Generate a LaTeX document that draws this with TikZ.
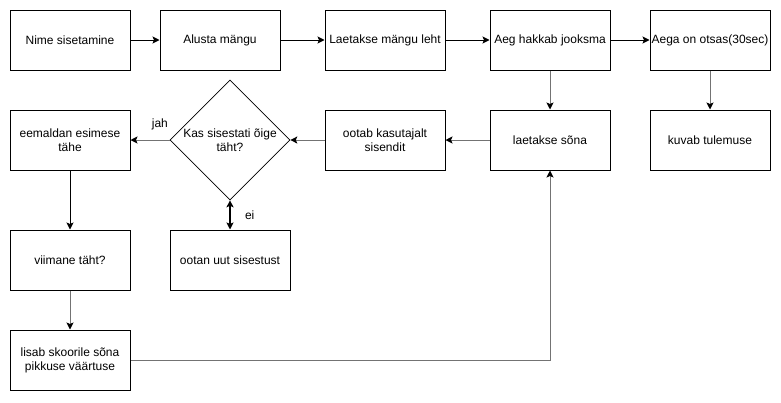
\documentclass[tikz,border=0pt]{standalone}
\usepackage{fontspec}
\setmainfont{Liberation Sans}
\usetikzlibrary{shapes.geometric,arrows.meta}

\tikzset{
  stepbox/.style={draw, line width=1pt, minimum width=120pt, minimum height=60pt,
    inner sep=0pt, align=center},
  decision/.style={draw, diamond, line width=0.6pt, minimum width=120pt,
    minimum height=120pt, inner sep=0pt},
  go/.style={line width=1pt, -{Stealth[length=7pt,width=7pt,inset=1.5pt,color=black]}},
  gogray/.style={go, draw=black!55},
}

\begin{document}
\begin{tikzpicture}[x=1pt,y=-1pt]
  \fontsize{12pt}{14pt}\selectfont
  \useasboundingbox (0,0) rectangle (781,402);

  % first row
  \node[stepbox] (nime)   at (70,40)  {Nime sisetamine};
  \node[stepbox] (alusta) at (220,40) {Alusta mängu};
  \node[stepbox] (leht)   at (385,40) {Laetakse mängu leht};
  \node[stepbox] (aeg)    at (550,40) {Aeg hakkab jooksma};
  \node[stepbox] (otsas)  at (710,40) {Aega on otsas(30sec)};

  % second row
  \node[stepbox] (eemaldan) at (70,140)  {eemaldan esimese\\tähe};
  \node[decision] (kas)     at (230,140) {};
  \node[align=center] (kastext) at (kas) {Kas sisestati õige\\täht?};
  \node[stepbox] (ootab)    at (385,140) {ootab kasutajalt\\sisendit};
  \node[stepbox] (sona)     at (550,140) {laetakse sõna};
  \node[stepbox] (kuvab)    at (710,140) {kuvab tulemuse};

  % lower rows
  \node[stepbox] (viimane) at (70,260)  {viimane täht?};
  \node[stepbox] (ootan)   at (230,260) {ootan uut sisestust};
  \node[stepbox] (lisab)   at (70,360)  {lisab skoorile sõna\\pikkuse väärtuse};

  \draw[go] (nime) -- (alusta);
  \draw[go] (alusta) -- (leht);
  \draw[go] (leht) -- (aeg);
  \draw[go] (aeg) -- (otsas);

  \draw[gogray] (aeg) -- (sona);
  \draw[gogray] (otsas) -- (kuvab);
  \draw[gogray] (sona) -- (ootab);
  \draw[gogray] (ootab) -- (kas.east);
  \draw[gogray] (kas.west) -- (eemaldan)
    node[pos=0.25, above=6pt, black] (jah) {jah};
  \draw[go] (eemaldan) -- (viimane);
  \draw[gogray] (viimane) -- (lisab);
  \draw[gogray] (lisab.east) -| (sona.south);

  \draw[line width=2pt, {Stealth[length=7pt,width=7pt,inset=1.5pt]}-{Stealth[length=7pt,width=7pt,inset=1.5pt]}]
    (kas.south) -- (ootan.north) node[midway, right=10pt] (ei) {ei};

\end{tikzpicture}
\end{document}
